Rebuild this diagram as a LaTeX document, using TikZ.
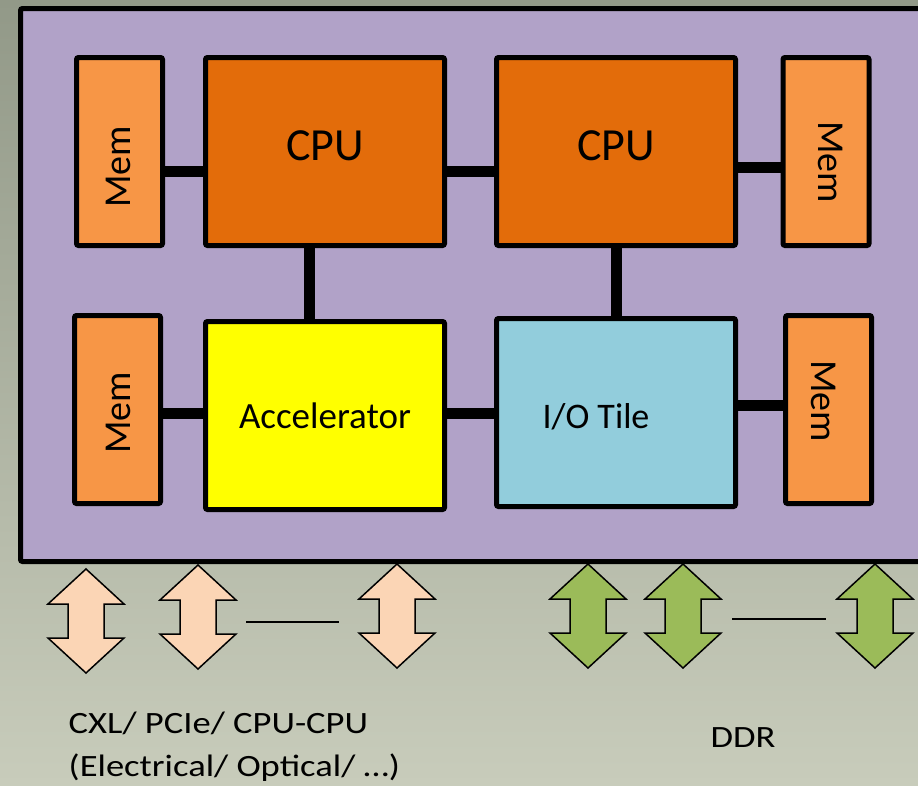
\documentclass[tikz,border=0pt]{standalone}
\usepackage{fontspec}
\setmainfont{Carlito}
\newfontfamily\widefont[FakeStretch=1.18]{Carlito}
\usetikzlibrary{positioning}
\definecolor{BgTop}{HTML}{929988}
\definecolor{BgBot}{HTML}{C8CCBB}
\definecolor{Lilac}{HTML}{B1A2C8}
\definecolor{CpuOrange}{HTML}{E36C0A}
\definecolor{MemOrange}{HTML}{F79646}
\definecolor{AccYellow}{HTML}{FFFF00}
\definecolor{IoBlue}{HTML}{92CDDC}
\definecolor{Peach}{HTML}{FBD5B5}
\definecolor{Olive}{HTML}{9BBB59}

% up/down arrow: centre x, top y, colour
\newcommand{\bidiarrow}[3]{%
  \filldraw[fill=#3,line width=1.5pt,line join=miter]
    (#1,#2) -- ++(38,35) -- ++(-20,0) -- ++(0,34) -- ++(20,0)
    -- ++(-38,35) -- ++(-38,-35) -- ++(20,0) -- ++(0,-34) -- ++(-20,0) -- cycle;}

\begin{document}
\begin{tikzpicture}[x=1pt,y=-1pt,
  tile/.style={draw,line width=5pt,rounded corners=2pt,inner sep=0pt,
    minimum width=239pt,minimum height=188pt},
  mem/.style={draw,line width=5pt,rounded corners=2pt,inner sep=0pt,fill=MemOrange,
    minimum width=86pt,minimum height=188pt},
  memtxt/.style={inner sep=0pt,font=\fontsize{38}{40}\selectfont},
  bigtxt/.style={inner sep=0pt,font=\fontsize{46}{50}\selectfont},
  link/.style={line width=11pt},
  bottomtxt/.style={inner sep=0pt,align=left,font=\widefont\fontsize{31}{43}\selectfont}]

\clip (0,0) rectangle (918,785);
\shade[top color=BgTop,bottom color=BgBot] (0,0) rectangle (918,785);
\filldraw[fill=Lilac,line width=5pt,rounded corners=2pt] (20.5,8.5) rectangle (935,561.5);

\node[mem,label={[memtxt,xshift=-1.5pt,yshift=-15.5pt,rotate=90]center:Mem}] (mem1) at (119.5,151.5) {};
\node[tile,fill=CpuOrange,label={[bigtxt,yshift=5.5pt]center:CPU}] (cpu1) at (325,151.5) {};
\node[tile,fill=CpuOrange,label={[bigtxt,yshift=5.5pt]center:CPU}] (cpu2) at (616,151.5) {};
\node[mem,label={[memtxt,xshift=5pt,yshift=-10.5pt,rotate=-90]center:Mem}] (mem2) at (826,151.5) {};

\node[mem,label={[memtxt,xshift=0.5pt,yshift=-3.5pt,rotate=90]center:Mem}] (mem3) at (117.5,409.5) {};
\node[tile,fill=AccYellow,font=\fontsize{37}{40}\selectfont] (acc) at (325,415.5) {Accelerator};
\node[tile,fill=IoBlue,label={[inner sep=0pt,font=\fontsize{36}{40}\selectfont,xshift=-20pt,yshift=-4pt]center:I/O Tile}] (io) at (616,412.5) {};
\node[mem,label={[memtxt,xshift=-4.5pt,yshift=8.5pt,rotate=-90]center:Mem}] (mem4) at (828.5,409.5) {};

\draw[link] ([yshift=-19.5pt]mem1.east) -- ([yshift=-19.5pt]mem1.east -| cpu1.west);
\draw[link] ([yshift=-19.5pt]cpu1.east) -- ([yshift=-19.5pt]cpu1.east -| cpu2.west);
\draw[link] ([yshift=-15.5pt]cpu2.east) -- ([yshift=-15.5pt]cpu2.east -| mem2.west);
\draw[link] ([xshift=-16pt]cpu1.south) -- ([xshift=-16pt]cpu1.south |- acc.north);
\draw[link] (cpu2.south) -- (cpu2.south |- io.north);
\draw[link] ([yshift=-3.5pt]mem3.east) -- ([yshift=-3.5pt]mem3.east -| acc.west);
\draw[link] ([yshift=2.5pt]acc.east) -- ([yshift=2.5pt]acc.east -| io.west);
\draw[link] ([yshift=7.5pt]io.east) -- ([yshift=7.5pt]io.east -| mem4.west);

\bidiarrow{86}{569}{Peach}
\bidiarrow{198}{565}{Peach}
\bidiarrow{397}{564}{Peach}
\bidiarrow{588}{564}{Olive}
\bidiarrow{683}{564}{Olive}
\bidiarrow{875}{564}{Olive}

\coordinate (pdots1) at (246,622);
\coordinate (pdots2) at (339,622);
\coordinate (gdots1) at (732,619);
\coordinate (gdots2) at (826,619);
\draw[line width=1.5pt] (pdots1) -- (pdots2);
\draw[line width=1.5pt] (gdots1) -- (gdots2);

\node[bottomtxt,anchor=base west] (ioname) at (68.5,776) {CXL/ PCIe/ CPU-CPU\\(Electrical/ Optical/ …)};
\node[bottomtxt] (ddr) at (743,737.5) {DDR};

\end{tikzpicture}
\end{document}
